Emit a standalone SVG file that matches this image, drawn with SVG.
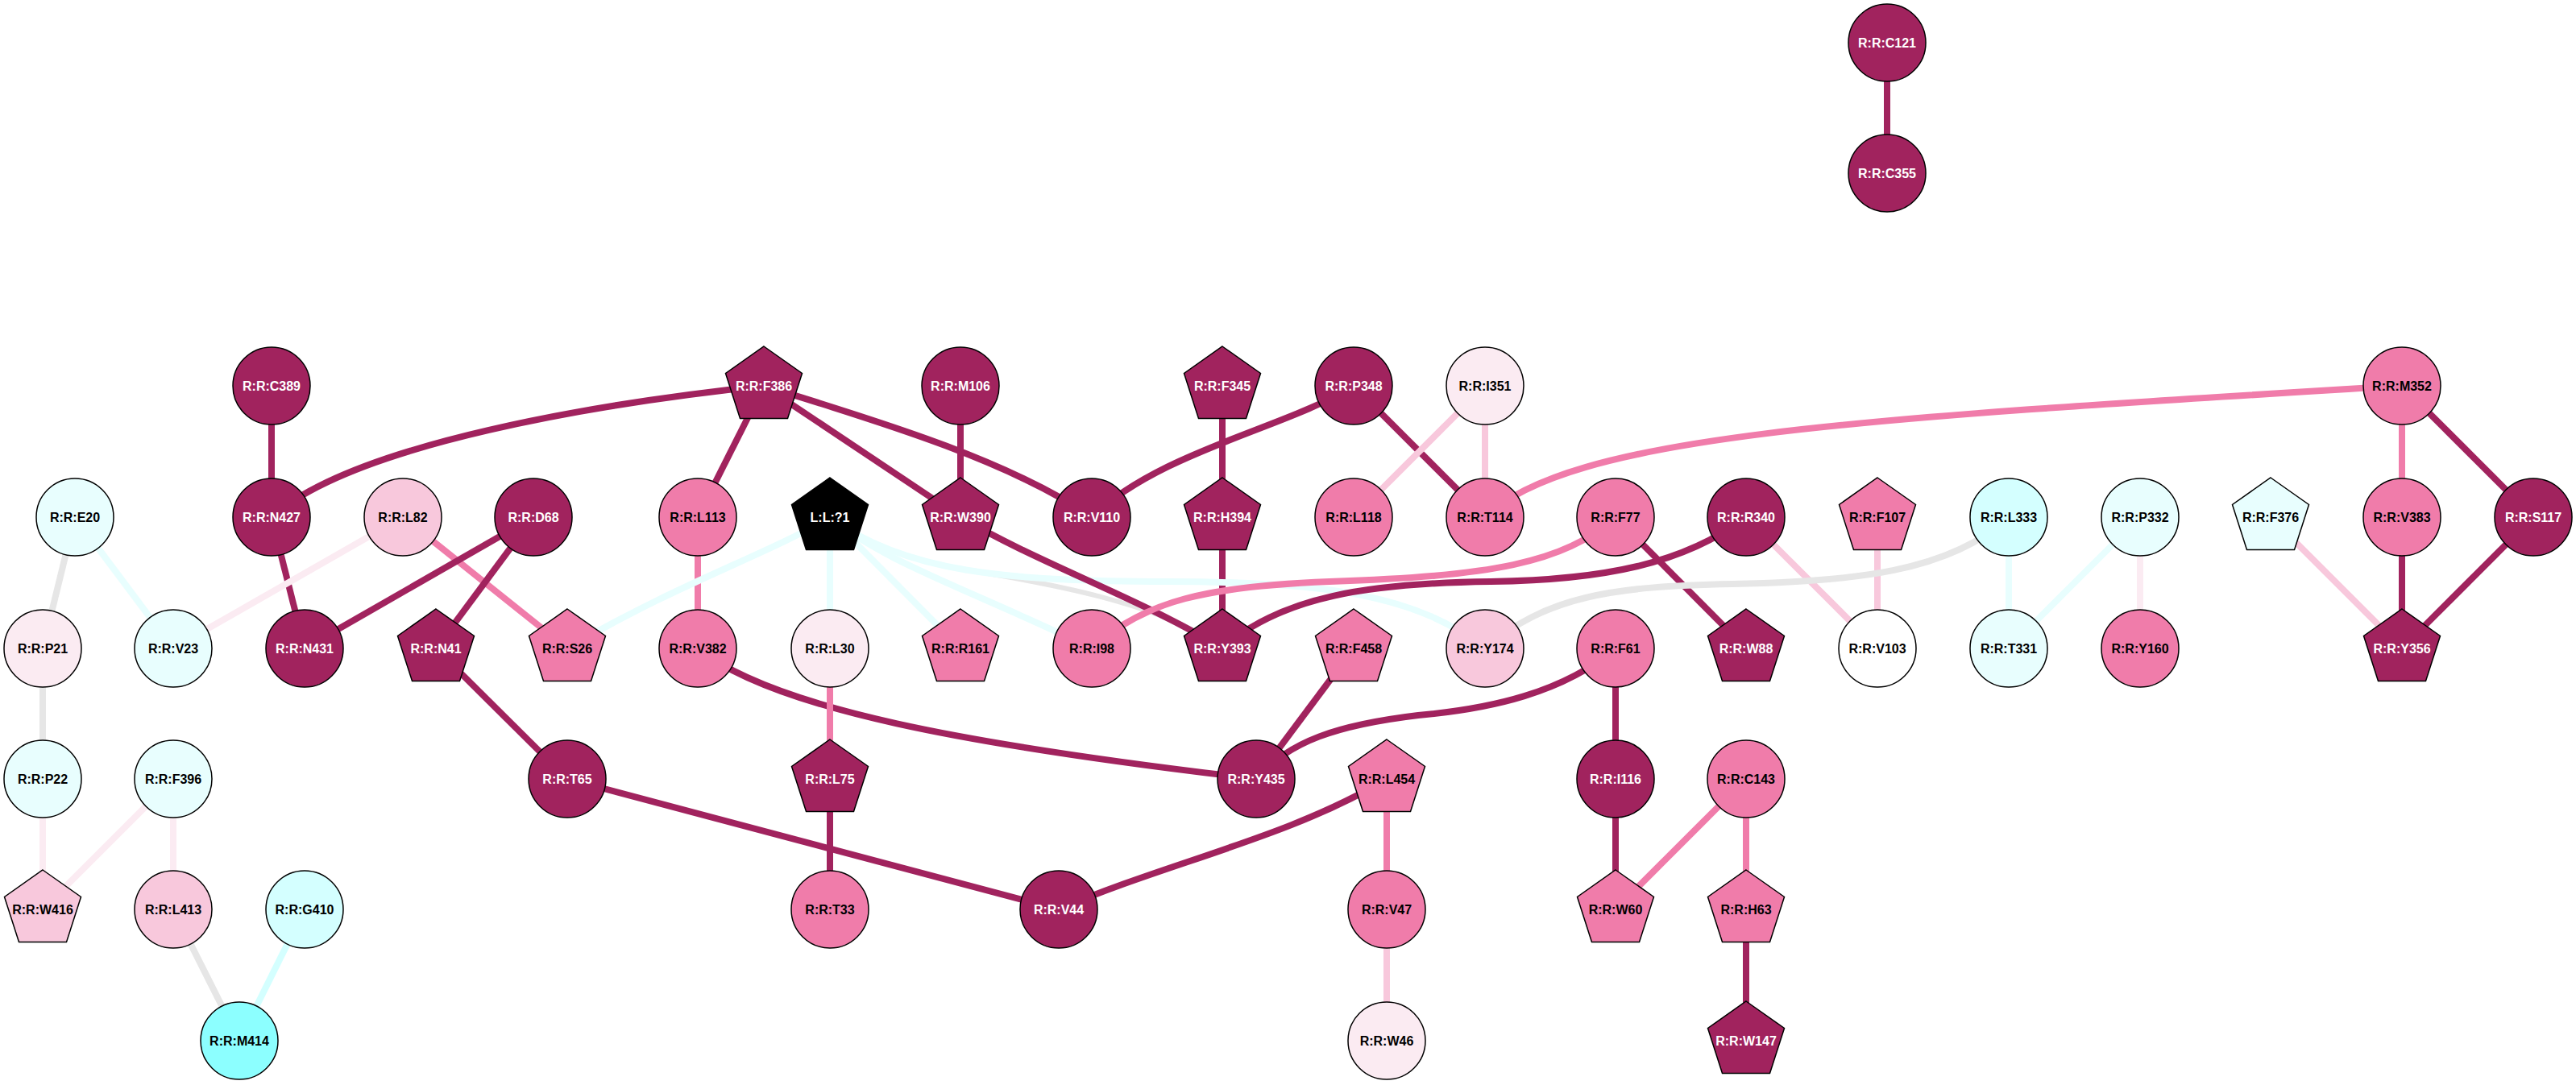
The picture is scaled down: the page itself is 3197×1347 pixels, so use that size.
<svg xmlns="http://www.w3.org/2000/svg" width="3197" height="1347" viewBox="0 0 3197 1347">
<style>
text{font-family:"Liberation Sans",Arial,sans-serif;font-weight:bold;font-size:16px;text-anchor:middle;dominant-baseline:central;fill:#000}
.n circle,.n polygon{stroke:#000;stroke-width:1.5}
.dk circle,.dk polygon{fill:#A1235E}
.pk circle,.pk polygon{fill:#F07CAA}
.lp circle,.lp polygon{fill:#F8C8DC}
.vp circle,.vp polygon{fill:#FBEBF2}
.wh circle,.wh polygon{fill:#FFFFFF}
.vc circle,.vc polygon{fill:#E8FEFE}
.lc circle,.lc polygon{fill:#D4FFFF}
.cy circle,.cy polygon{fill:#8CFFFF}
.bk circle,.bk polygon{fill:#000}
.dk text,.bk text{fill:#fff}
#edges path{fill:none;stroke-width:8}
#edges path.thin{stroke-width:6}
.e-dk{stroke:#A1235E}
.e-pk{stroke:#F07CAA}
.e-lp{stroke:#F8C8DC}
.e-vp{stroke:#FBEBF2}
.e-gr{stroke:#E6E6E6}
.e-vc{stroke:#E8FEFE}
.e-lc{stroke:#D4FFFF}
</style>
<rect width="3197" height="1347" fill="#fff"/>
<g id="edges">
<path class="e-dk" d="M2342 53L2342 215"/>
<path class="e-dk" d="M337 479L337 642"/>
<path class="e-dk" d="M337 642C440 550 750 500 948 479"/>
<path class="e-dk" d="M337 642L378 805"/>
<path class="e-gr" d="M93 642L53 805"/>
<path class="e-vc" d="M93 642L215 805"/>
<path class="e-vp" d="M500 642L215 805"/>
<path class="e-pk" d="M500 642L704 805"/>
<path class="e-dk" d="M662 642L378 805"/>
<path class="e-dk" d="M662 642L541 805"/>
<path class="e-dk" d="M541 805L704 967"/>
<path class="e-dk" d="M704 967L1314 1129"/>
<path class="e-dk" d="M1314 1129C1450 1070 1600 1040 1721 967"/>
<path class="e-dk" d="M948 479L866 642"/>
<path class="e-dk" d="M948 479L1192 642"/>
<path class="e-dk" d="M948 479C1080 520 1250 570 1355 642"/>
<path class="e-dk" d="M1192 479L1192 642"/>
<path class="e-dk" d="M1680 479C1600 530 1440 560 1355 642"/>
<path class="e-dk" d="M1680 479L1843 642"/>
<path class="e-lp" d="M1843 479L1680 642"/>
<path class="e-lp" d="M1843 479L1843 642"/>
<path class="e-pk" d="M1843 642C1950 540 2300 520 2981 479"/>
<path class="e-pk" d="M2981 479L2981 642"/>
<path class="e-dk" d="M2981 479L3144 642"/>
<path class="e-dk" d="M1517 479L1517 642"/>
<path class="e-dk" d="M1517 642L1517 805"/>
<path class="e-pk" d="M866 642L866 805"/>
<path class="e-gr thin" d="M1030 642C1075 676 1130 696 1198.75 707.5C1267.5 719 1440 745 1517 805"/>
<path class="e-vc" d="M1030 642C950 690 850 720 704 805"/>
<path class="e-vc" d="M1030 642L1030 805"/>
<path class="e-vc" d="M1030 642L1192 805"/>
<path class="e-vc" d="M1030 642C1100 700 1200 730 1355 805"/>
<path class="e-vc" d="M1030 642C1120 710 1250 722 1450 722C1650 722 1760 740 1843 805"/>
<path class="e-dk" d="M1192 642C1290 700 1420 745 1517 805"/>
<path class="e-dk" d="M866 805C960 880 1200 925 1559 967"/>
<path class="e-pk" d="M1030 805L1030 967"/>
<path class="e-dk" d="M1030 967L1030 1129"/>
<path class="e-pk" d="M2005 642C1940 700 1850 715 1650 722C1500 728 1420 745 1355 805"/>
<path class="e-dk" d="M2005 642L2167 805"/>
<path class="e-dk" d="M2167 642C2090 700 1990 720 1850 722C1700 724 1590 740 1517 805"/>
<path class="e-lp" d="M2167 642L2330 805"/>
<path class="e-lp" d="M2330 642L2330 805"/>
<path class="e-gr" d="M2493 642C2420 710 2300 722 2150 725C2000 728 1920 740 1843 805"/>
<path class="e-vc" d="M2493 642L2493 805"/>
<path class="e-vc" d="M2656 642L2493 805"/>
<path class="e-vp" d="M2656 642L2656 805"/>
<path class="e-lp" d="M2818 642L2981 805"/>
<path class="e-dk" d="M2981 642L2981 805"/>
<path class="e-dk" d="M3144 642L2981 805"/>
<path class="e-dk" d="M1680 805L1559 967"/>
<path class="e-dk" d="M2005 805C1940 860 1850 880 1760 888C1660 900 1600 920 1559 967"/>
<path class="e-dk" d="M2005 805L2005 967"/>
<path class="e-dk" d="M2005 967L2005 1129"/>
<path class="e-pk" d="M2167 967L2005 1129"/>
<path class="e-pk" d="M2167 967L2167 1129"/>
<path class="e-dk" d="M2167 1129L2167 1292"/>
<path class="e-pk" d="M1721 967L1721 1129"/>
<path class="e-lp" d="M1721 1129L1721 1292"/>
<path class="e-gr" d="M53 805L53 967"/>
<path class="e-vp" d="M53 967L53 1129"/>
<path class="e-vp" d="M215 967L53 1129"/>
<path class="e-vp" d="M215 967L215 1129"/>
<path class="e-gr" d="M215 1129L297 1292"/>
<path class="e-lc" d="M378 1129L297 1292"/>
</g>
<g id="n-C121" class="n dk" transform="translate(2342,53)"><circle r="48"/><text>R:R:C121</text></g>
<g id="n-C355" class="n dk" transform="translate(2342,215)"><circle r="48"/><text>R:R:C355</text></g>
<g id="n-C389" class="n dk" transform="translate(337,479)"><circle r="48"/><text>R:R:C389</text></g>
<g id="n-F386" class="n dk" transform="translate(948,479)"><polygon points="0,-49 47.5,-15.5 29.5,40.5 -29.5,40.5 -47.5,-15.5"/><text>R:R:F386</text></g>
<g id="n-M106" class="n dk" transform="translate(1192,479)"><circle r="48"/><text>R:R:M106</text></g>
<g id="n-F345" class="n dk" transform="translate(1517,479)"><polygon points="0,-49 47.5,-15.5 29.5,40.5 -29.5,40.5 -47.5,-15.5"/><text>R:R:F345</text></g>
<g id="n-P348" class="n dk" transform="translate(1680,479)"><circle r="48"/><text>R:R:P348</text></g>
<g id="n-I351" class="n vp" transform="translate(1843,479)"><circle r="48"/><text>R:R:I351</text></g>
<g id="n-M352" class="n pk" transform="translate(2981,479)"><circle r="48"/><text>R:R:M352</text></g>
<g id="n-E20" class="n vc" transform="translate(93,642)"><circle r="48"/><text>R:R:E20</text></g>
<g id="n-N427" class="n dk" transform="translate(337,642)"><circle r="48"/><text>R:R:N427</text></g>
<g id="n-L82" class="n lp" transform="translate(500,642)"><circle r="48"/><text>R:R:L82</text></g>
<g id="n-D68" class="n dk" transform="translate(662,642)"><circle r="48"/><text>R:R:D68</text></g>
<g id="n-L113" class="n pk" transform="translate(866,642)"><circle r="48"/><text>R:R:L113</text></g>
<g id="n-L1" class="n bk" transform="translate(1030,642)"><polygon points="0,-49 47.5,-15.5 29.5,40.5 -29.5,40.5 -47.5,-15.5"/><text>L:L:?1</text></g>
<g id="n-W390" class="n dk" transform="translate(1192,642)"><polygon points="0,-49 47.5,-15.5 29.5,40.5 -29.5,40.5 -47.5,-15.5"/><text>R:R:W390</text></g>
<g id="n-V110" class="n dk" transform="translate(1355,642)"><circle r="48"/><text>R:R:V110</text></g>
<g id="n-H394" class="n dk" transform="translate(1517,642)"><polygon points="0,-49 47.5,-15.5 29.5,40.5 -29.5,40.5 -47.5,-15.5"/><text>R:R:H394</text></g>
<g id="n-L118" class="n pk" transform="translate(1680,642)"><circle r="48"/><text>R:R:L118</text></g>
<g id="n-T114" class="n pk" transform="translate(1843,642)"><circle r="48"/><text>R:R:T114</text></g>
<g id="n-F77" class="n pk" transform="translate(2005,642)"><circle r="48"/><text>R:R:F77</text></g>
<g id="n-R340" class="n dk" transform="translate(2167,642)"><circle r="48"/><text>R:R:R340</text></g>
<g id="n-F107" class="n pk" transform="translate(2330,642)"><polygon points="0,-49 47.5,-15.5 29.5,40.5 -29.5,40.5 -47.5,-15.5"/><text>R:R:F107</text></g>
<g id="n-L333" class="n lc" transform="translate(2493,642)"><circle r="48"/><text>R:R:L333</text></g>
<g id="n-P332" class="n vc" transform="translate(2656,642)"><circle r="48"/><text>R:R:P332</text></g>
<g id="n-F376" class="n vc" transform="translate(2818,642)"><polygon points="0,-49 47.5,-15.5 29.5,40.5 -29.5,40.5 -47.5,-15.5"/><text>R:R:F376</text></g>
<g id="n-V383" class="n pk" transform="translate(2981,642)"><circle r="48"/><text>R:R:V383</text></g>
<g id="n-S117" class="n dk" transform="translate(3144,642)"><circle r="48"/><text>R:R:S117</text></g>
<g id="n-P21" class="n vp" transform="translate(53,805)"><circle r="48"/><text>R:R:P21</text></g>
<g id="n-V23" class="n vc" transform="translate(215,805)"><circle r="48"/><text>R:R:V23</text></g>
<g id="n-N431" class="n dk" transform="translate(378,805)"><circle r="48"/><text>R:R:N431</text></g>
<g id="n-N41" class="n dk" transform="translate(541,805)"><polygon points="0,-49 47.5,-15.5 29.5,40.5 -29.5,40.5 -47.5,-15.5"/><text>R:R:N41</text></g>
<g id="n-S26" class="n pk" transform="translate(704,805)"><polygon points="0,-49 47.5,-15.5 29.5,40.5 -29.5,40.5 -47.5,-15.5"/><text>R:R:S26</text></g>
<g id="n-V382" class="n pk" transform="translate(866,805)"><circle r="48"/><text>R:R:V382</text></g>
<g id="n-L30" class="n vp" transform="translate(1030,805)"><circle r="48"/><text>R:R:L30</text></g>
<g id="n-R161" class="n pk" transform="translate(1192,805)"><polygon points="0,-49 47.5,-15.5 29.5,40.5 -29.5,40.5 -47.5,-15.5"/><text>R:R:R161</text></g>
<g id="n-I98" class="n pk" transform="translate(1355,805)"><circle r="48"/><text>R:R:I98</text></g>
<g id="n-Y393" class="n dk" transform="translate(1517,805)"><polygon points="0,-49 47.5,-15.5 29.5,40.5 -29.5,40.5 -47.5,-15.5"/><text>R:R:Y393</text></g>
<g id="n-F458" class="n pk" transform="translate(1680,805)"><polygon points="0,-49 47.5,-15.5 29.5,40.5 -29.5,40.5 -47.5,-15.5"/><text>R:R:F458</text></g>
<g id="n-Y174" class="n lp" transform="translate(1843,805)"><circle r="48"/><text>R:R:Y174</text></g>
<g id="n-F61" class="n pk" transform="translate(2005,805)"><circle r="48"/><text>R:R:F61</text></g>
<g id="n-W88" class="n dk" transform="translate(2167,805)"><polygon points="0,-49 47.5,-15.5 29.5,40.5 -29.5,40.5 -47.5,-15.5"/><text>R:R:W88</text></g>
<g id="n-V103" class="n wh" transform="translate(2330,805)"><circle r="48"/><text>R:R:V103</text></g>
<g id="n-T331" class="n vc" transform="translate(2493,805)"><circle r="48"/><text>R:R:T331</text></g>
<g id="n-Y160" class="n pk" transform="translate(2656,805)"><circle r="48"/><text>R:R:Y160</text></g>
<g id="n-Y356" class="n dk" transform="translate(2981,805)"><polygon points="0,-49 47.5,-15.5 29.5,40.5 -29.5,40.5 -47.5,-15.5"/><text>R:R:Y356</text></g>
<g id="n-P22" class="n vc" transform="translate(53,967)"><circle r="48"/><text>R:R:P22</text></g>
<g id="n-F396" class="n vc" transform="translate(215,967)"><circle r="48"/><text>R:R:F396</text></g>
<g id="n-T65" class="n dk" transform="translate(704,967)"><circle r="48"/><text>R:R:T65</text></g>
<g id="n-L75" class="n dk" transform="translate(1030,967)"><polygon points="0,-49 47.5,-15.5 29.5,40.5 -29.5,40.5 -47.5,-15.5"/><text>R:R:L75</text></g>
<g id="n-Y435" class="n dk" transform="translate(1559,967)"><circle r="48"/><text>R:R:Y435</text></g>
<g id="n-L454" class="n pk" transform="translate(1721,967)"><polygon points="0,-49 47.5,-15.5 29.5,40.5 -29.5,40.5 -47.5,-15.5"/><text>R:R:L454</text></g>
<g id="n-I116" class="n dk" transform="translate(2005,967)"><circle r="48"/><text>R:R:I116</text></g>
<g id="n-C143" class="n pk" transform="translate(2167,967)"><circle r="48"/><text>R:R:C143</text></g>
<g id="n-W416" class="n lp" transform="translate(53,1129)"><polygon points="0,-49 47.5,-15.5 29.5,40.5 -29.5,40.5 -47.5,-15.5"/><text>R:R:W416</text></g>
<g id="n-L413" class="n lp" transform="translate(215,1129)"><circle r="48"/><text>R:R:L413</text></g>
<g id="n-G410" class="n lc" transform="translate(378,1129)"><circle r="48"/><text>R:R:G410</text></g>
<g id="n-T33" class="n pk" transform="translate(1030,1129)"><circle r="48"/><text>R:R:T33</text></g>
<g id="n-V44" class="n dk" transform="translate(1314,1129)"><circle r="48"/><text>R:R:V44</text></g>
<g id="n-V47" class="n pk" transform="translate(1721,1129)"><circle r="48"/><text>R:R:V47</text></g>
<g id="n-W60" class="n pk" transform="translate(2005,1129)"><polygon points="0,-49 47.5,-15.5 29.5,40.5 -29.5,40.5 -47.5,-15.5"/><text>R:R:W60</text></g>
<g id="n-H63" class="n pk" transform="translate(2167,1129)"><polygon points="0,-49 47.5,-15.5 29.5,40.5 -29.5,40.5 -47.5,-15.5"/><text>R:R:H63</text></g>
<g id="n-M414" class="n cy" transform="translate(297,1292)"><circle r="48"/><text>R:R:M414</text></g>
<g id="n-W46" class="n vp" transform="translate(1721,1292)"><circle r="48"/><text>R:R:W46</text></g>
<g id="n-W147" class="n dk" transform="translate(2167,1292)"><polygon points="0,-49 47.5,-15.5 29.5,40.5 -29.5,40.5 -47.5,-15.5"/><text>R:R:W147</text></g>
</svg>
